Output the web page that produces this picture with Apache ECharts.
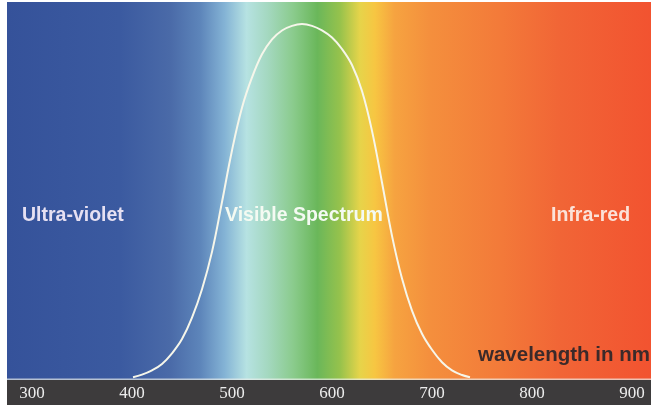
<!DOCTYPE html>
<html>
<head>
<meta charset="utf-8">
<script src="https://cdn.jsdelivr.net/npm/echarts@6/dist/echarts.min.js"></script>
<style>
html,body{margin:0;padding:0;background:#fff;}
#chart{width:654px;height:408px;}
</style>
</head>
<body>
<div id="chart"></div>
<script>
// Data: wavelength (nm) and relative sensitivity of the visible-spectrum curve
const wavelengths = [401, 410, 420, 430, 440, 450, 460, 470, 480, 490, 500, 510, 520, 530, 540, 550, 560, 570, 580, 590, 600, 610, 620, 630, 640, 650, 660, 670, 680, 690, 700, 710, 720, 730, 738];
const sensitivity = [0.008, 0.015, 0.027, 0.045, 0.075, 0.115, 0.175, 0.255, 0.36, 0.50, 0.645, 0.765, 0.85, 0.915, 0.957, 0.982, 0.995, 1.0, 0.995, 0.982, 0.962, 0.93, 0.885, 0.812, 0.70, 0.555, 0.405, 0.285, 0.195, 0.13, 0.085, 0.05, 0.027, 0.014, 0.008];
const tickValues = [300, 400, 500, 600, 700, 800, 900];
const regionLabels = ['Ultra-violet', 'Visible Spectrum', 'Infra-red'];
const axisTitle = 'wavelength in nm';

const chart = echarts.init(document.getElementById('chart'));
const curve = wavelengths.map((w, i) => [w, sensitivity[i]]);

const spectrum = new echarts.graphic.LinearGradient(0, 0, 1, 0, [
  {offset: 0.000, color: '#35529a'},
  {offset: 0.175, color: '#3b5aa0'},
  {offset: 0.253, color: '#4a6aa8'},
  {offset: 0.300, color: '#5d85ba'},
  {offset: 0.338, color: '#84b3d5'},
  {offset: 0.372, color: '#b6e2e2'},
  {offset: 0.405, color: '#a4d8c0'},
  {offset: 0.445, color: '#8acb8c'},
  {offset: 0.482, color: '#6ab75a'},
  {offset: 0.517, color: '#96c24c'},
  {offset: 0.548, color: '#e6d44a'},
  {offset: 0.571, color: '#f7c642'},
  {offset: 0.602, color: '#f6a340'},
  {offset: 0.657, color: '#f48f3d'},
  {offset: 0.766, color: '#f37a39'},
  {offset: 0.859, color: '#f16536'},
  {offset: 1.000, color: '#f25330'}
]);

const labelFont = 'bold 19.5px "Liberation Sans", sans-serif';

chart.setOption({
  backgroundColor: '#ffffff',
  animation: false,
  grid: {left: 7, right: 3, top: 2, bottom: 28, show: true, backgroundColor: spectrum, borderWidth: 0},
  graphic: [
    {type: 'rect', z: -1, shape: {x: 7, y: 380, width: 644, height: 25}, style: {fill: '#3d3b3c'}},
    {type: 'rect', z: 5, shape: {x: 7, y: 378.5, width: 644, height: 1.5}, style: {fill: 'rgba(235,240,235,0.7)'}},
    {type: 'text', z: 10, left: 22, top: 206, style: {text: regionLabels[0], fill: '#e6e0f2', font: labelFont}},
    {type: 'text', z: 10, left: 225, top: 206, style: {text: regionLabels[1], fill: '#f4faf2', font: labelFont}},
    {type: 'text', z: 10, left: 551, top: 206, style: {text: regionLabels[2], fill: '#fbe2d8', font: labelFont}},
    {type: 'text', z: 10, left: 478, top: 345, style: {text: axisTitle, fill: '#3b2a2a', font: 'bold 20.5px "Liberation Sans", sans-serif'}}
  ],
  xAxis: {
    type: 'value', min: 275, max: 919,
    axisLine: {show: false}, axisTick: {show: false}, splitLine: {show: false},
    axisLabel: {
      customValues: tickValues, showMinLabel: true, showMaxLabel: true,
      color: '#ececec', fontFamily: '"Liberation Serif", serif', fontSize: 17, margin: 5
    }
  },
  yAxis: {
    type: 'value', min: 0, max: 1.062,
    show: false, splitLine: {show: false}
  },
  series: [{
    type: 'line', data: curve, smooth: 0.4, showSymbol: false,
    lineStyle: {color: '#f6f6ea', width: 2}
  }]
});
</script>
</body>
</html>
